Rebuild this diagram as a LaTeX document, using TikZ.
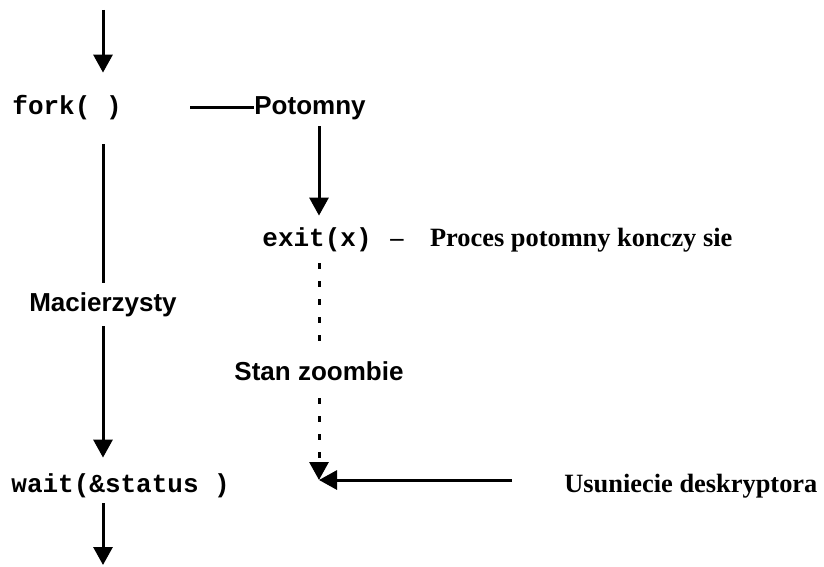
\documentclass[tikz,border=0pt]{standalone}
\usepackage{fontspec}
\setmainfont{Liberation Serif}
\setsansfont{Liberation Sans}
\setmonofont{Liberation Mono}
\usetikzlibrary{arrows.meta, positioning}

\begin{document}
\begin{tikzpicture}[
    x=0.5pt, y=-0.5pt,
    tekst/.style = {inner sep=0pt, text height=9pt, text depth=2.5pt},
    kod/.style = {tekst, font=\fontsize{13}{15}\selectfont\ttfamily\bfseries},
    opis/.style = {tekst, font=\fontsize{13}{15}\selectfont\sffamily\bfseries},
    uwaga/.style = {tekst, font=\fontsize{13.2}{15}\selectfont\rmfamily\bfseries},
    linia/.style = {black, line width=1.5pt},
    pil/.style = {linia, -{Triangle[length=9pt, width=9.5pt]}},
    kropki/.style = {pil, dash pattern=on 3pt off 6pt},
    ]
  \useasboundingbox (0,0) rectangle (824,567);

  % kolumny strzalek
  \coordinate (lewa) at (103,0);
  \coordinate (prawa) at (319,0);
  \coordinate (gora) at (103,10);
  \coordinate (dol) at (103,565);
  \coordinate (usun) at (319,480);

  \node[kod, anchor=base west] (fork) at (12,114) {fork( )};
  \node[opis, anchor=base west] (potomny) at (254,114) {Potomny};
  \node[kod, anchor=base west] (exit) at (262,246) {exit(x)};
  \node[uwaga] (koniec) [base right=9pt of exit] {–\quad Proces potomny konczy sie};
  \node[opis, inner ysep=5pt, anchor=base] (macierz) at (103,311) {Macierzysty};
  \node[opis, anchor=base] (zombie) at (319,380) {Stan zoombie};
  \node[kod, anchor=base west] (wait) at (11,492) {wait(\&status )};
  \node[uwaga, anchor=base west] (deskryptor) at (564,492) {Usuniecie deskryptora};

  \draw[pil, shorten >=11.5pt] (gora) -- (fork.north -| lewa);
  \draw[linia, shorten <=34pt] (fork.east) -- (potomny.west);
  \draw[pil, shorten <=3.5pt, shorten >=6pt] (potomny.south -| prawa) -- (exit.north -| prawa);
  \draw[linia, shorten <=12.5pt] (fork.south -| lewa) -- (macierz);
  \draw[pil, shorten >=8pt] (macierz) -- (wait.north -| lewa);
  \draw[pil, shorten <=3pt] (wait.south -| lewa) -- (dol);

  \draw[kropki, -, shorten <=6pt, shorten >=8.5pt] (exit.south -| prawa) -- (zombie);
  \draw[kropki, shorten <=6.5pt] (zombie) -- (usun);
  \draw[pil, shorten <=26pt] (deskryptor.west |- usun) -- (usun);
\end{tikzpicture}
\end{document}
